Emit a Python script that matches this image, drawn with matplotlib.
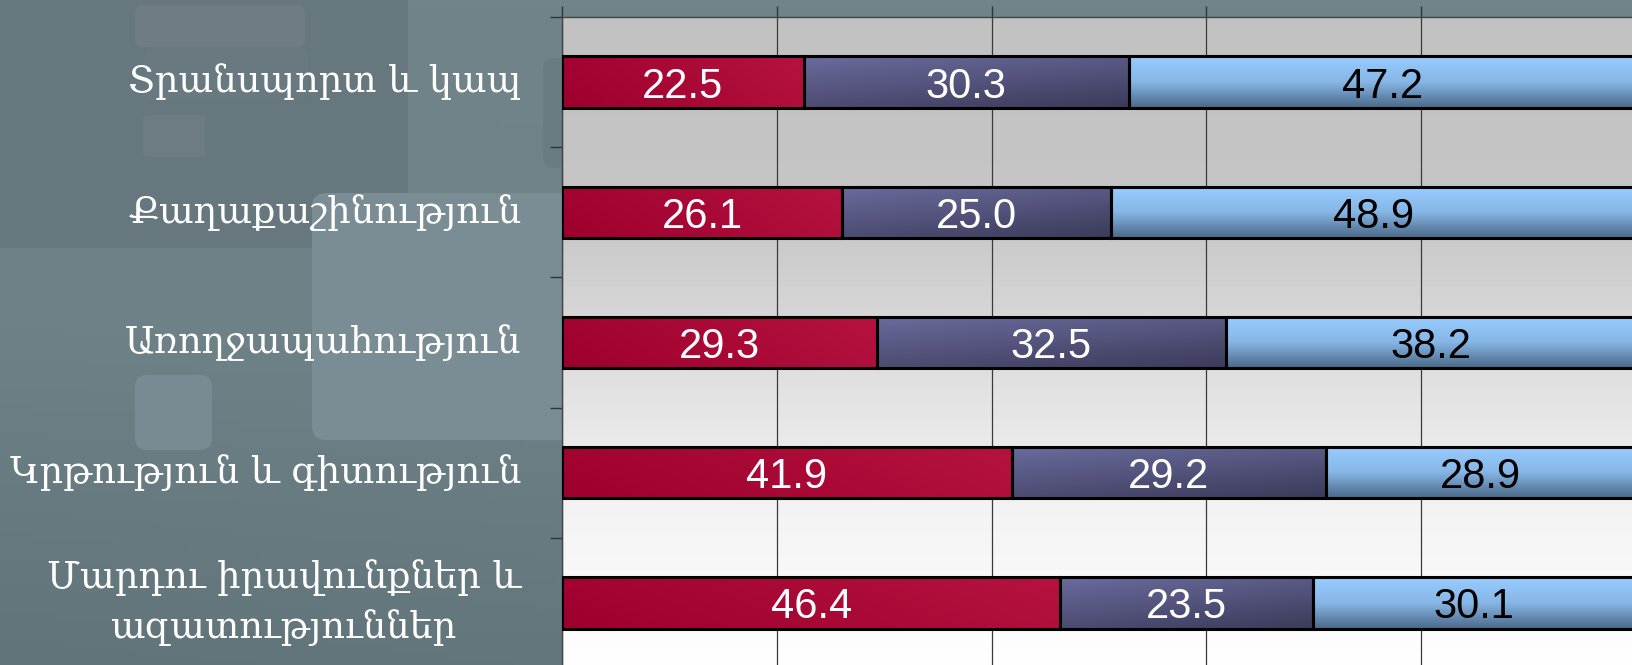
import numpy as np
import matplotlib
matplotlib.use('Agg')
import matplotlib.pyplot as plt
from matplotlib.colors import LinearSegmentedColormap
from matplotlib.patches import FancyBboxPatch


# %% data ----------------------------------------------------------------------

categories = ['Տրանսպորտ և կապ',
              'Քաղաքաշինություն',
              'Առողջապահություն',
              'Կրթություն և գիտություն',
              'Մարդու իրավունքներ և\nազատություններ']

part_a = [22.5, 26.1, 29.3, 41.9, 46.4]
part_b = [30.3, 25.0, 32.5, 29.2, 23.5]
part_c = [47.2, 48.9, 38.2, 28.9, 30.1]

x_ticks = [0, 20, 40, 60, 80, 100]


# %% figure --------------------------------------------------------------------

W, H = 1633, 665
fig = plt.figure(figsize=(W / 100, H / 100), dpi=100, facecolor='#6F8288')

#------------------
# slide background with the big faded "?" shapes
bg = fig.add_axes([0, 0, 1, 1])
bg.set_xlim(0, W)
bg.set_ylim(H, 0)
bg.axis('off')

X, Y = np.meshgrid(np.linspace(0, 1, 200), np.linspace(0, 1, 100))
shade = 0.75 * Y + 0.25 * (1 - X) * Y
bg.imshow(shade, extent=[0, W, H, 0], aspect='auto', zorder=0, vmin=0, vmax=1,
          cmap=LinearSegmentedColormap.from_list('slide', ['#718489', '#6E8187', '#617479']))

def rbox(x, y, w, h, color, r=12, z=1):
    bg.add_patch(FancyBboxPatch((x, y), w, h,
                                boxstyle='round,pad=0,rounding_size={}'.format(r),
                                fc=color, ec='none', zorder=z))

rbox(-30, -30, 438, 278, '#66787E', r=18)
rbox(145, 47, 163, 53, '#687A80', r=8, z=2)
rbox(135, 5, 170, 42, '#6F7D83', r=8, z=2)
rbox(143, 115, 62, 42, '#6D7C82', r=4, z=2)
rbox(543, 58, 40, 110, '#697C82', r=12, z=2)
rbox(312, 193, 400, 247, '#7A8D94', r=14, z=3)
rbox(135, 375, 77, 75, '#788B92', r=12, z=3)

#------------------
ax = fig.add_axes([562 / W, 1 - 668 / H, (1636 - 562) / W, (668 - 17) / H])

# category labels
for i, lab in enumerate(categories):
    ax.text(-3.8, i, lab, ha='right', va='center', multialignment='center',
            fontsize=26.5, color='white', family='DejaVu Serif', linespacing=1.45)


# %% plot area -----------------------------------------------------------------

grad_plot = np.linspace(0, 1, 300).reshape(-1, 1)
ax.imshow(grad_plot, extent=[0, 100, 4.5, -0.5], aspect='auto', zorder=0,
          cmap=LinearSegmentedColormap.from_list(
              'plotbg', [(0, '#C2C2C2'), (0.3, '#C6C6C6'), (0.55, '#E0E0E0'),
                         (0.75, '#F3F3F3'), (1, '#FFFFFF')]))

cm_red = LinearSegmentedColormap.from_list('red', ['#9E002E', '#B5123F'])
cm_purple = LinearSegmentedColormap.from_list('purple', ['#6B6B9E', '#3B3B5A'])
cm_blue = LinearSegmentedColormap.from_list('blue', ['#98CCFF', '#86B6E6', '#4B6988'])


def fcnGradFill(rect, cmap, mode):
    x0, y0 = rect.get_x(), rect.get_y()
    w, h = rect.get_width(), rect.get_height()
    gx, gy = np.meshgrid(np.linspace(0, 1, 64), np.linspace(0, 1, 64))
    if mode == 'v':
        arr = gy
    elif mode == 'h':
        arr = 0.8 * gx + 0.2 * (1 - gy)
    else:
        arr = 0.35 * gx + 0.65 * gy
    im = ax.imshow(arr, cmap=cmap, extent=[x0, x0 + w, y0 + h, y0],
                   origin='upper', aspect='auto', zorder=2, vmin=0, vmax=1)
    im.set_clip_path(rect)
    rect.set_facecolor('none')
    rect.set_zorder(3)


y_pos = np.arange(len(categories))
left_b = np.array(part_a)
left_c = left_b + np.array(part_b)

bar_h = 0.395
bars_a = ax.barh(y_pos, part_a, height=bar_h, edgecolor='black', lw=2.2)
bars_b = ax.barh(y_pos, part_b, left=left_b, height=bar_h, edgecolor='black', lw=2.2)
bars_c = ax.barh(y_pos, part_c, left=left_c, height=bar_h, edgecolor='black', lw=2.2)

for r in bars_a:
    fcnGradFill(r, cm_red, 'h')
for r in bars_b:
    fcnGradFill(r, cm_purple, 'd')
for r in bars_c:
    fcnGradFill(r, cm_blue, 'v')

#------------------
# value labels
for bars, vals, col in [(bars_a, part_a, 'white'), (bars_b, part_b, 'white'),
                        (bars_c, part_c, 'black')]:
    for r, v in zip(bars, vals):
        ax.text(r.get_x() + r.get_width() / 2, r.get_y() + r.get_height() / 2,
                '{:.1f}'.format(v), ha='center', va='center_baseline',
                fontsize=30, color=col, family='Liberation Sans', zorder=4)


# %% axes style ----------------------------------------------------------------

ax.set_xlim(0, 100)
ax.set_ylim(4.5, -0.5)
ax.set_axisbelow(True)

ax.xaxis.tick_top()
ax.set_xticks(x_ticks)
ax.set_xticklabels([])
ax.set_yticks(np.arange(-0.5, 5, 1.0))
ax.set_yticklabels([])
ax.tick_params(axis='x', direction='out', length=8, width=1, color='#333333')
ax.tick_params(axis='y', direction='out', length=8.5, width=1, color='#333333')

ax.grid(axis='x', color='#3A3A3A', lw=0.9)

for s in ['right', 'bottom']:
    ax.spines[s].set_visible(False)
for s in ['left', 'top']:
    ax.spines[s].set_color('#444444')
    ax.spines[s].set_linewidth(1.0)

plt.savefig('out.png', dpi=100, facecolor=fig.get_facecolor())
